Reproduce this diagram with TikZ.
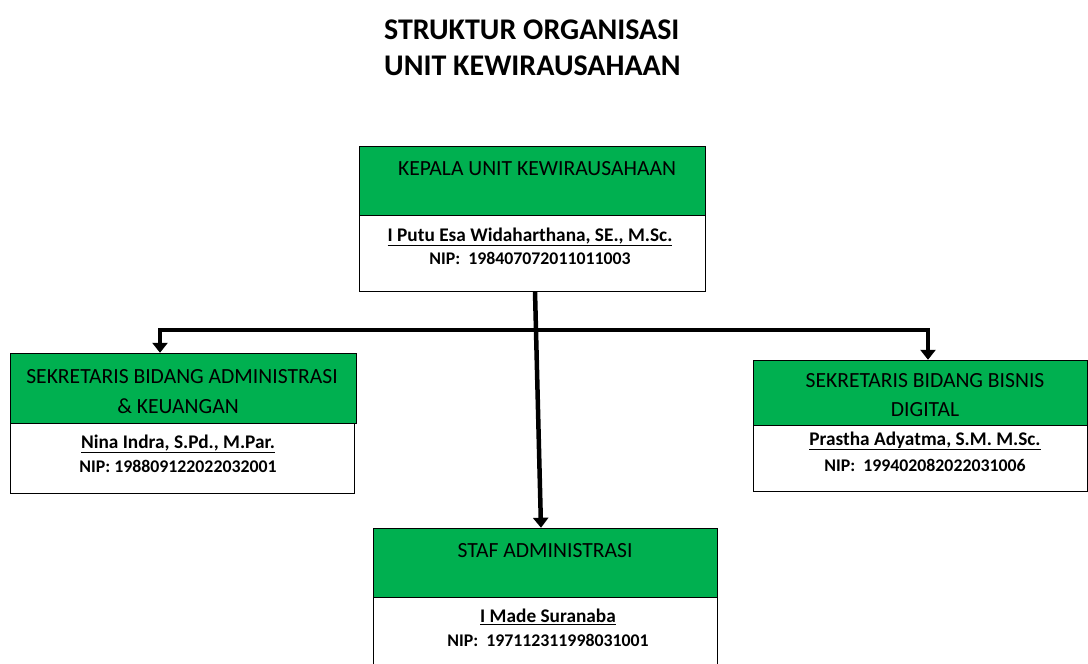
\documentclass[tikz,border=0pt]{standalone}
\usepackage{fontspec}
\setmainfont{Carlito}
\usetikzlibrary{arrows.meta,calc}
\definecolor{offgreen}{HTML}{00B050}
\tikzset{
  greenbox/.style={draw=black, line width=1pt, fill=offgreen},
  whitebox/.style={draw=black, line width=0.8pt, fill=white},
  head/.style={font=\fontsize{21.6}{30}\selectfont, align=center, inner sep=0pt},
  title/.style={font=\fontsize{30}{34}\selectfont\bfseries, anchor=west, inner sep=0pt},
  person/.style={font=\fontsize{19.3}{22}\selectfont\bfseries, inner sep=0pt},
  nip/.style={font=\fontsize{17.8}{20}\selectfont\bfseries, inner sep=0pt},
  conn/.style={line width=4.5pt, black},
  arr/.style={conn, -{Triangle[width=15pt,length=10pt]}}
}
\begin{document}
\begin{tikzpicture}[x=1pt,y=1pt]
\useasboundingbox[fill=white] (0,0) rectangle (1088,-664);
% title
\node[title] (t1) at (384,-30) {STRUKTUR ORGANISASI};
\node[title] (t2) at (384,-66) {UNIT KEWIRAUSAHAAN};
% top box
\path[greenbox] (359,-146) rectangle (705,-215);
\node[inner sep=0pt, minimum width=346pt, minimum height=69pt] (kwG) at (532,-180.5) {};
\path[whitebox] (359,-215) rectangle (705,-291);
\node[inner sep=0pt, minimum width=346pt, minimum height=76pt] (kwW) at (532,-253) {};
\node[head] (kwT) at (537,-169) {KEPALA UNIT KEWIRAUSAHAAN};
\node[person] (kwN) at (530,-237) {\underline{I Putu Esa Widaharthana, SE., M.Sc.}};
\node[nip] (kwP) at (530,-258) {NIP:\ \ 198407072011011003};
% left box
\path[greenbox] (10,-353) rectangle (356,-423);
\node[inner sep=0pt, minimum width=346pt, minimum height=70pt] (lG) at (183,-388) {};
\path[whitebox] (10,-423) rectangle (354,-493);
\node[inner sep=0pt, minimum width=344pt, minimum height=70pt] (lW) at (182,-458) {};
\node[head] (lT1) at (182,-377) {SEKRETARIS BIDANG ADMINISTRASI};
\node[head] (lT2) at (178,-406) {\& KEUANGAN};
\node[person] (lN) at (178,-444) {\underline{Nina Indra, S.Pd., M.Par.}};
\node[nip] (lP) at (178,-466) {NIP: 198809122022032001};
% right box
\path[greenbox] (753,-360) rectangle (1087,-425);
\node[inner sep=0pt, minimum width=334pt, minimum height=65pt] (rG) at (920,-392.5) {};
\path[whitebox] (753,-425) rectangle (1087,-491);
\node[inner sep=0pt, minimum width=334pt, minimum height=66pt] (rW) at (920,-458) {};
\node[head] (rT1) at (925,-381) {SEKRETARIS BIDANG BISNIS};
\node[head] (rT2) at (925,-410) {DIGITAL};
\node[person] (rN) at (925,-441) {\underline{Prastha Adyatma, S.M. M.Sc.}};
\node[nip] (rP) at (925,-465) {NIP:\ \ 199402082022031006};
% bottom box
\path[greenbox] (373,-528) rectangle (717,-597);
\node[inner sep=0pt, minimum width=344pt, minimum height=69pt] (sG) at (545,-562.5) {};
\path[whitebox] (373,-597) rectangle (717,-680);
\node[inner sep=0pt, minimum width=344pt, minimum height=83pt] (sW) at (545,-638.5) {};
\node[head] (sT) at (545,-551) {STAF ADMINISTRASI};
\node[person] (sN) at (548,-617) {\underline{I Made Suranaba}};
\node[nip] (sP) at (548,-640) {NIP:\ \ 197112311998031001};
% connectors
\coordinate (hL) at (158,-330);
\coordinate (hR) at (930,-330);
\draw[conn] (hL) -- (hR);
\draw[arr] ($(hL)+(2,2)$) coordinate (dl) (dl) -- (dl |- lG.north);
\draw[arr] ($(hR)+(-2,2)$) coordinate (dr) (dr) -- (dr |- rG.north);
\draw[arr] ([xshift=3pt]kwW.south) -- ([xshift=-4pt]sG.north);
\end{tikzpicture}
\end{document}
